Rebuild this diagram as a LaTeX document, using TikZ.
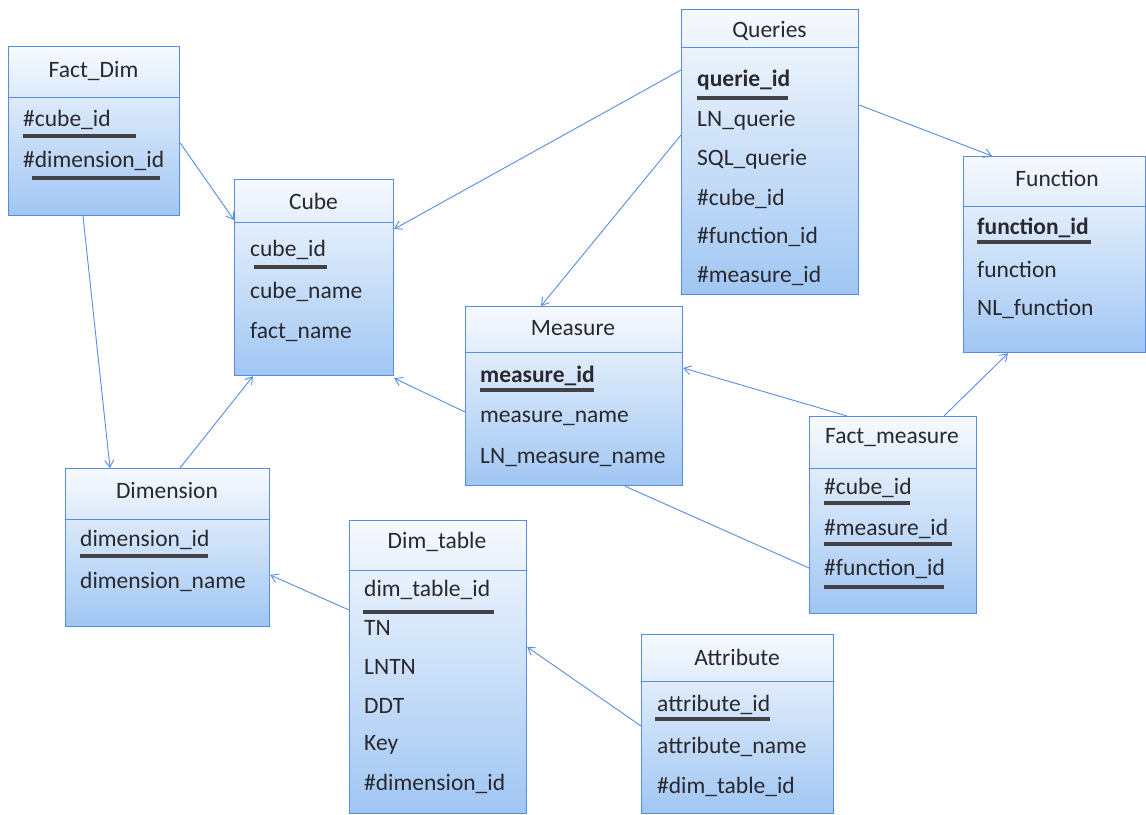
\documentclass[tikz,border=0pt]{standalone}
\usepackage{fontspec}
\setmainfont{Carlito}
\usetikzlibrary{arrows.meta,calc}
\definecolor{edge}{RGB}{86,140,226}
\definecolor{boxtop}{RGB}{247,250,254}
\definecolor{boxbot}{RGB}{160,198,243}
\definecolor{ink}{RGB}{40,40,46}
\definecolor{keyc}{RGB}{65,65,70}
\tikzset{
  tbl/.style={draw=edge, line width=1.2pt, top color=boxtop, bottom color=boxbot, anchor=north west, inner sep=0pt},
  hdr/.style={draw=edge, line width=1pt},
  ttl/.style={font=\fontsize{23.5}{27}\selectfont, text=ink, inner sep=0pt},
  fld/.style={font=\fontsize{23.5}{27}\selectfont, text=ink, anchor=west, inner sep=0pt},
  bfld/.style={fld, font=\fontsize{23.5}{27}\selectfont\bfseries},
  keyline/.style={draw=keyc, line width=4pt},
  link/.style={draw=edge, line width=0.9pt, -{Straight Barb[length=7pt,width=9pt]}},
  plainlink/.style={draw=edge, line width=0.9pt},
}
\begin{document}
\begin{tikzpicture}[x=1pt,y=-1pt]
\useasboundingbox (0,0) rectangle (1146,814);

% Fact_Dim
\node[tbl, minimum width=171pt, minimum height=169pt] (factdim) at (8,46) {};
\draw[hdr] (8,97) -- (179,97);
\node[ttl] (factdimT) at (93.5,71) {Fact\_Dim};
\node[fld] (fd1) at (23,120) {\#cube\_id};
\node[fld] (fd2) at (23,161) {\#dimension\_id};
\draw[keyline] (23,136) -- (136,136);
\draw[keyline] (32,178) -- (160,178);

% Cube
\node[tbl, minimum width=159pt, minimum height=196pt] (cube) at (234,179) {};
\draw[hdr] (234,222) -- (393,222);
\node[ttl] (cubeT) at (313.5,201) {Cube};
\node[fld] (cu1) at (250,250) {cube\_id};
\node[fld] (cu2) at (250,292) {cube\_name};
\node[fld] (cu3) at (250,332) {fact\_name};
\draw[keyline] (254,267) -- (327,267);

% Queries
\node[tbl, minimum width=177pt, minimum height=285pt] (queries) at (681,9) {};
\draw[hdr] (681,47) -- (858,47);
\node[ttl] (queriesT) at (769.5,31) {Queries};
\node[bfld] (q1) at (697,80) {querie\_id};
\node[fld] (q2) at (697,120) {LN\_querie};
\node[fld] (q3) at (697,159) {SQL\_querie};
\node[fld] (q4) at (697,199) {\#cube\_id};
\node[fld] (q5) at (697,237) {\#function\_id};
\node[fld] (q6) at (697,276) {\#measure\_id};
\draw[keyline] (697,98) -- (788,98);

% Function
\node[tbl, minimum width=182pt, minimum height=196pt] (function) at (963,156) {};
\draw[hdr] (963,206) -- (1145,206);
\node[ttl] (functionT) at (1057,178) {Function};
\node[bfld] (f1) at (977,228) {function\_id};
\node[fld] (f2) at (977,269) {function};
\node[fld] (f3) at (977,309) {NL\_function};
\draw[keyline] (977,242) -- (1091,242);

% Measure
\node[tbl, minimum width=217pt, minimum height=179pt] (measure) at (465,306) {};
\draw[hdr] (465,352) -- (682,352);
\node[ttl] (measureT) at (573,328) {Measure};
\node[bfld] (m1) at (480,376) {measure\_id};
\node[fld] (m2) at (480,418) {measure\_name};
\node[fld] (m3) at (480,458) {LN\_measure\_name};
\draw[keyline] (480,390) -- (594,390);

% Fact_measure
\node[tbl, minimum width=167pt, minimum height=197pt] (factmeasure) at (809,416) {};
\draw[hdr] (809,468) -- (976,468);
\node[ttl] (factmeasureT) at (892,438) {Fact\_measure};
\node[fld] (fm1) at (824,488) {\#cube\_id};
\node[fld] (fm2) at (824,529) {\#measure\_id};
\node[fld] (fm3) at (824,569) {\#function\_id};
\draw[keyline] (824,503) -- (910,503);
\draw[keyline] (824,544) -- (952,544);
\draw[keyline] (824,587) -- (944,587);

% Dimension
\node[tbl, minimum width=204pt, minimum height=158pt] (dimension) at (65,468) {};
\draw[hdr] (65,519) -- (269,519);
\node[ttl] (dimensionT) at (167,490) {Dimension};
\node[fld] (d1) at (80,540) {dimension\_id};
\node[fld] (d2) at (80,582) {dimension\_name};
\draw[keyline] (80,556) -- (208,556);

% Dim_table
\node[tbl, minimum width=177pt, minimum height=293pt] (dimtable) at (349,520) {};
\draw[hdr] (349,570) -- (526,570);
\node[ttl] (dimtableT) at (437,542) {Dim\_table};
\node[fld] (dt1) at (364,590) {dim\_table\_id};
\node[fld] (dt2) at (364,628) {TN};
\node[fld] (dt3) at (364,667) {LNTN};
\node[fld] (dt4) at (364,706) {DDT};
\node[fld] (dt5) at (364,745) {Key};
\node[fld] (dt6) at (364,784) {\#dimension\_id};
\draw[keyline] (363,612) -- (494,612);

% Attribute
\node[tbl, minimum width=192pt, minimum height=179pt] (attribute) at (641,634) {};
\draw[hdr] (641,681) -- (833,681);
\node[ttl] (attributeT) at (737,657) {Attribute};
\node[fld] (a1) at (657,705) {attribute\_id};
\node[fld] (a2) at (657,747) {attribute\_name};
\node[fld] (a3) at (657,787) {\#dim\_table\_id};
\draw[keyline] (655,719) -- (770,719);

% Connectors
\draw[link] ($(factdim.north east)+(0,97)$) -- ($(cube.north west)+(0,41)$);
\draw[link] ($(factdim.south west)+(75,0)$) -- ($(dimension.north west)+(45,0)$);
\draw[link] ($(dimension.north west)+(115,0)$) -- ($(cube.south west)+(19,0)$);
\draw[link] ($(measure.north west)+(0,106)$) -- ($(cube.south east)+(0,2)$);
\draw[link] ($(queries.north west)+(0,61)$) -- ($(cube.north east)+(0,50)$);
\draw[link] ($(queries.north west)+(0,126)$) -- ($(measure.north west)+(76,0)$);
\draw[link] ($(queries.north east)+(0,96)$) -- ($(function.north west)+(29,0)$);
\draw[link] ($(factmeasure.north west)+(38,0)$) -- ($(measure.north east)+(0,62)$);
\draw[link] ($(factmeasure.north west)+(135,0)$) -- ($(function.south west)+(45,0)$);
\draw[plainlink] ($(measure.south west)+(160,0)$) -- ($(factmeasure.north west)+(0,152)$);
\draw[link] ($(dimtable.north west)+(0,90)$) -- ($(dimension.north east)+(0,107)$);
\draw[link] ($(attribute.north west)+(0,92)$) -- ($(dimtable.north east)+(0,127)$);
\end{tikzpicture}
\end{document}
